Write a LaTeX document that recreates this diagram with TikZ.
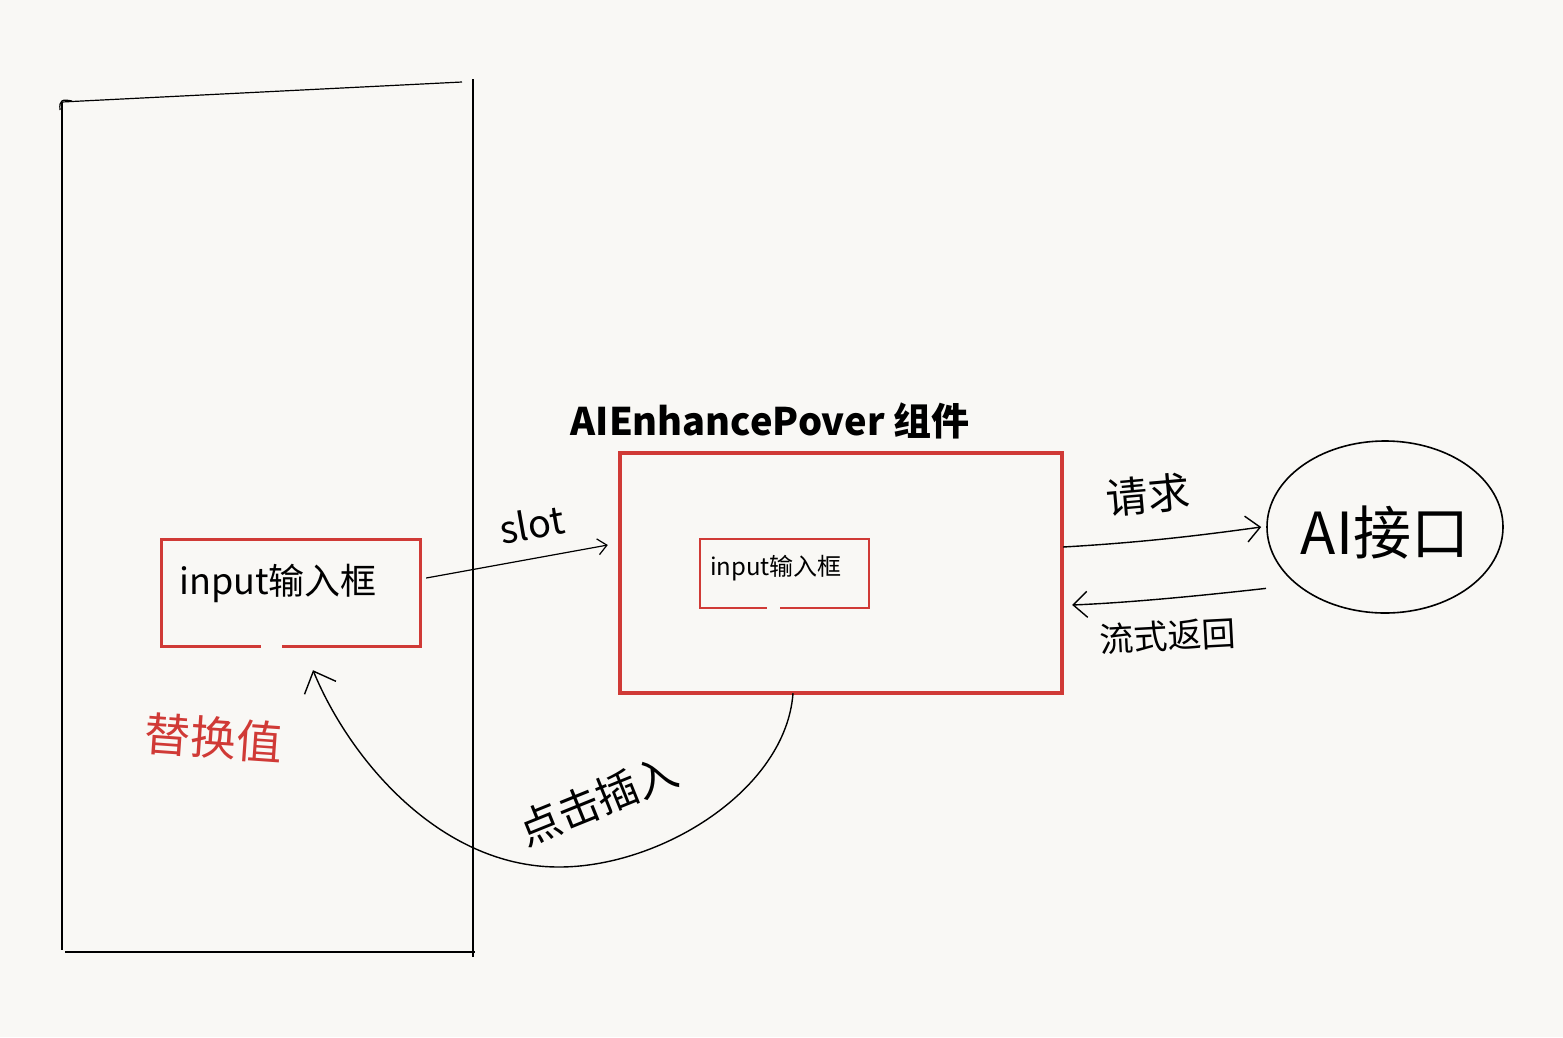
\documentclass[tikz,border=0pt]{standalone}
\usepackage{fontspec}
\setmainfont{Noto Sans CJK SC}
\usetikzlibrary{arrows.meta,shapes.geometric}
\definecolor{bg}{RGB}{249,248,245}
\definecolor{boxred}{RGB}{208,58,54}
\begin{document}
\begin{tikzpicture}[x=1pt,y=-1pt,
  ink/.style={draw=black,line width=1.4pt},
  redline/.style={draw=boxred,line cap=rect},
  hand/.style={inner sep=0pt,font=\fontsize{#1}{#1}\selectfont},
  openarrow/.style={-{Straight Barb[length=14pt,width=26pt,line width=1.4pt]}},
  slotarrow/.style={-{Straight Barb[length=9pt,width=16pt,line width=1.2pt]}},
  area/.style={inner sep=0pt,draw=none}]
\useasboundingbox (0,0) rectangle (1563,1037);
\fill[bg] (0,0) rectangle (1563,1037);
% left page container
\coordinate (ptl) at (62,102);
\coordinate (ptr) at (462,82);
\coordinate (prt) at (473,79);
\coordinate (prb) at (473,957);
\coordinate (pbl) at (65,952);
\coordinate (pbr) at (475,952);
\coordinate (plb) at (62,950);
\draw[ink,line width=1.2pt] (ptl) -- (ptr);
\draw[ink,line width=1.2pt] (prt) -- (prb);
\draw[ink,line width=1.2pt] (pbl) -- (pbr);
\draw[ink,line width=1.2pt] (60,110) .. controls (59,100) and (62,99) .. (72,101);
\draw[ink,line width=1.2pt] (ptl) -- (plb);
% title
\node[hand=38,font=\bfseries\fontsize{38}{38}\selectfont] (title) at (770,421) {AIEnhancePover 组件};
% component box
\node[area,minimum width=442pt,minimum height=240pt] (comp) at (841,573) {};
\draw[redline,line width=3.6pt] (comp.south west) rectangle (comp.north east);
% inner small input box
\node[area,minimum width=169pt,minimum height=69pt] (in2) at (784.5,573.5) {};
\draw[redline,line width=1.8pt] ([xshift=-18pt]in2.south) -- (in2.south west) -- (in2.north west) -- (in2.north east) -- (in2.south east) -- ([xshift=-4pt]in2.south);
\node[hand=24] (in2t) at (776,568) {input输入框};
% left input box
\node[area,minimum width=258pt,minimum height=106pt] (in1) at (291,593) {};
\draw[redline,line width=2.8pt] ([xshift=-31pt]in1.south) -- (in1.south west) -- (in1.north west) -- (in1.north east) -- (in1.south east) -- ([xshift=-8pt]in1.south);
\node[hand=36] (in1t) at (278,583) {input输入框};
% AI interface ellipse
\node[ellipse,draw=black,line width=1.6pt,minimum width=236pt,minimum height=172pt,inner sep=0pt] (ai) at (1385,527) {};
\node[hand=58] (ait) at (1385,533) {AI接口};
% slot arrow
\draw[ink,line width=1.2pt,slotarrow] ([shift={(6,-15)}]in1.east) -- ([shift={(-12,-28)}]comp.west);
\node[hand=38,rotate=10] (slot) at (532,524) {slot};
% request arrow
\draw[ink,openarrow] ([shift={(1,-26)}]comp.east) .. controls (1150,542) and (1210,534) .. ([xshift=-5pt]ai.west);
\node[hand=42,rotate=5] (req) at (1148,495) {请求};
% streaming return arrow
\draw[ink,openarrow] ([xshift=-35pt]ai.south west) .. controls (1180,598) and (1120,603) .. ([shift={(10,32)}]comp.east);
\node[hand=34,rotate=3] (stream) at (1168,636) {流式返回};
% click insert curve
\coordinate (cstart) at ([xshift=-48pt]comp.south);
\coordinate (cmid) at (557,867);
\draw[ink,-{Straight Barb[length=18pt,width=34pt,line width=1.4pt]}] (cstart) .. controls (786,790) and (660,868) .. (cmid) .. controls (440,866) and (350,760) .. ([shift={(22,24)}]in1.south);
\node[hand=42,rotate=22] (click) at (598,800) {点击插入};
% replace value
\node[hand=46,text=boxred,rotate=-4] (repl) at (214,738) {替换值};
\end{tikzpicture}
\end{document}
